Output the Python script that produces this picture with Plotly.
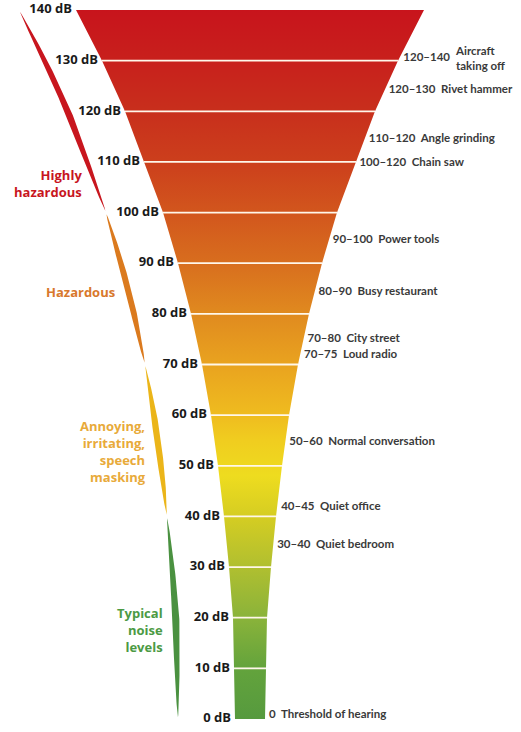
import numpy as np
import plotly.graph_objects as go

# funnel outline: sound level (dB) and half width of the funnel at that level
levels = [0, 10, 20, 30, 40, 50, 60, 70, 80, 90, 100, 110, 120, 130, 140]
half_width = [15, 16, 17, 21, 26, 32, 39, 48, 59, 72, 87, 106, 125, 148, 174]

# colour of the funnel from 0 dB (bottom) to 140 dB (top)
gradient_db = [0, 10, 20, 30, 40, 48, 55, 60, 70, 80, 90, 100, 110, 120, 130, 140]
gradient_colors = ["#569a3e", "#63a33c", "#8ab33a", "#b0bf30", "#d5cd22", "#eedc1f",
                   "#f0cd1f", "#efbc1f", "#e9a31f", "#e08a1f", "#d86e1e", "#d2561d",
                   "#cc3f1c", "#c82f1c", "#c8201c", "#c8141c"]

# example noise sources on the right
example_ranges = ["120–140", "120–130", "110–120", "100–120", "90–100", "80–90",
                  "70–80", "70–75", "50–60", "40–45", "30–40", "0"]
example_names = ["Aircraft<br>taking off", "Rivet hammer", "Angle grinding", "Chain saw",
                 "Power tools", "Busy restaurant", "City street", "Loud radio",
                 "Normal conversation", "Quiet office", "Quiet bedroom",
                 "Threshold of hearing"]
example_label_db = [130.5, 124.2, 114.6, 109.7, 94.5, 84.3, 75.0, 71.9, 54.7, 41.9, 34.3, 0.8]

# hazard categories on the left
categories = ["Highly<br>hazardous", "Hazardous", "Annoying,<br>irritating,<br>speech<br>masking",
              "Typical<br>noise<br>levels"]
category_low = [100, 70, 40, 0]
category_high = [140, 100, 70, 40]
category_colors = ["#c8161e", "#db7a1e", "#ebb519", "#4a9140"]
category_text_colors = ["#c8161e", "#d8782c", "#e8aa3a", "#4c9a44"]
category_label_db = [105.7, 84.3, 52.8, 17.5]

CENTER = 250
BAND_OFFSET = 57

levels_a = np.array(levels, dtype=float)
hw = np.array(half_width, dtype=float)
left_edge = CENTER - hw
right_edge = CENTER + hw

fig = go.Figure()

# category bands (thin tapered strips parallel to the funnel)
for lo, hi, col in zip(category_low, category_high, category_colors):
    t = np.linspace(0, 1, 80)
    db = lo + 0.35 + (hi - lo - 0.7) * t
    cx = np.interp(db, levels_a, left_edge) - BAND_OFFSET
    w = 3.3 * np.sin(np.pi * t) ** 0.7
    fig.add_trace(go.Scatter(
        x=np.concatenate([cx - w, (cx + w)[::-1]]),
        y=np.concatenate([db, db[::-1]]),
        fill="toself", fillcolor=col, mode="lines", line=dict(width=0),
        hoverinfo="skip", showlegend=False))

# funnel
scale = [[(d - gradient_db[0]) / (gradient_db[-1] - gradient_db[0]), c]
         for d, c in zip(gradient_db, gradient_colors)]
fig.add_trace(go.Scatter(
    x=list(left_edge) + list(right_edge[::-1]),
    y=levels + levels[::-1],
    fill="toself", mode="lines", line=dict(width=0),
    fillgradient=dict(type="vertical", colorscale=scale, start=0, stop=140),
    hoverinfo="skip", showlegend=False))

# white separator lines every 10 dB
sep_x, sep_y = [], []
for lv, l, r in zip(levels[1:-1], left_edge[1:-1], right_edge[1:-1]):
    sep_x += [l, r, None]
    sep_y += [lv, lv, None]
fig.add_trace(go.Scatter(x=sep_x, y=sep_y, mode="lines",
                         line=dict(color="#fff7ea", width=1.8),
                         hoverinfo="skip", showlegend=False))

# dB labels
fig.add_trace(go.Scatter(
    x=left_edge - 4, y=levels, mode="text",
    text=[f"{lv} dB" for lv in levels], textposition="middle left",
    textfont=dict(family="Open Sans", size=13, color="#1a1a1a", weight="bold"),
    hoverinfo="skip", showlegend=False))

# example labels
label_font = dict(family="Lato", size=11.5, color="#3a3a3a", weight="bold")
ex_x = np.interp(example_label_db, levels_a, right_edge) + 4
single = ["<br>" not in n for n in example_names]
fig.add_trace(go.Scatter(
    x=ex_x, y=example_label_db, mode="text",
    text=[r + "\u00a0\u00a0" + n if s else r
          for r, n, s in zip(example_ranges, example_names, single)],
    textposition="middle right", textfont=label_font,
    hoverinfo="skip", showlegend=False))
for r, n, s, x, y in zip(example_ranges, example_names, single, ex_x, example_label_db):
    if not s:
        fig.add_annotation(x=x, y=y, text=n, showarrow=False, xanchor="left",
                           align="left", xshift=len(r) * 6.4 + 5, font=label_font)

# category labels
for name, y, col in zip(categories, category_label_db, category_text_colors):
    x = np.interp(y, levels_a, left_edge) - BAND_OFFSET - 11
    fig.add_annotation(x=x, y=y, text=name, showarrow=False, xanchor="right",
                       align="right",
                       font=dict(family="Open Sans", size=13, color=col, weight="bold"))

px_per_db = (719 - 10) / 140
fig.update_layout(
    width=521, height=732,
    margin=dict(l=0, r=0, t=0, b=0),
    paper_bgcolor="white", plot_bgcolor="white",
    xaxis=dict(range=[0, 521], visible=False, fixedrange=True),
    yaxis=dict(range=[-13 / px_per_db, 140 + 10 / px_per_db], visible=False, fixedrange=True),
)

fig.write_html("out.html", config={"displayModeBar": False},
               post_script="document.body.style.margin='0px';")
